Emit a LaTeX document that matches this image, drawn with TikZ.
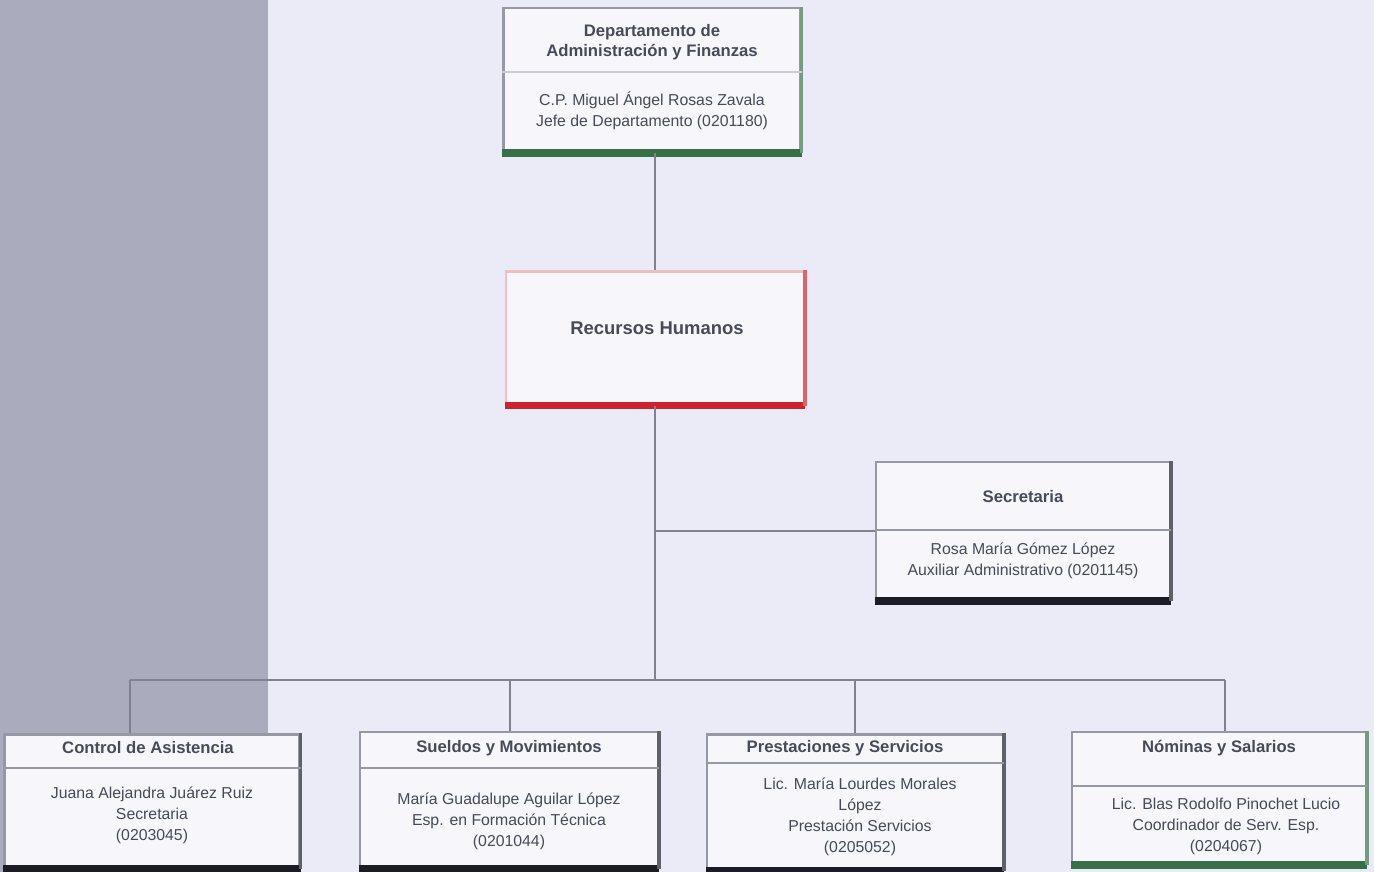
\documentclass[tikz,border=0pt]{standalone}
\usepackage{fontspec}
\setmainfont{Liberation Sans}
\usetikzlibrary{calc}

\definecolor{fondo}{RGB}{234,235,247}
\definecolor{panel}{RGB}{170,172,190}
\definecolor{borde}{RGB}{150,152,166}
\definecolor{letra}{RGB}{72,74,88}
\definecolor{verde}{RGB}{55,112,72}
\definecolor{rojo}{RGB}{205,35,45}
\definecolor{negro}{RGB}{28,28,38}
\definecolor{linea}{RGB}{128,130,144}

\tikzset{
  caja/.style={draw=borde, fill=white!55!fondo, line width=1.2pt, inner sep=0pt},
  titulo/.style={font=\bfseries\fontsize{9.5}{11.5}\selectfont, text=letra, align=center},
  datos/.style={font=\fontsize{9}{12}\selectfont, text=letra, align=center},
  conector/.style={draw=linea, line width=1.5pt}
}

\begin{document}
\begin{tikzpicture}[x=0.02cm,y=-0.02cm]
\useasboundingbox (0,0) rectangle (1374,872);
\fill[fondo] (0,0) rectangle (1374,872);
\fill[panel] (0,0) rectangle (268,872);

% cajas
\node[caja, minimum width=5.94cm, minimum height=2.88cm] (depto) at (652,80) {};
\node[caja, draw=rojo!30, minimum width=5.96cm, minimum height=2.66cm] (rh) at (655,338) {};
\node[caja, minimum width=5.88cm, minimum height=2.76cm] (secre) at (1023,531) {};
\node[caja, minimum width=5.90cm, minimum height=2.66cm] (control) at (152,801) {};
\node[caja, minimum width=5.96cm, minimum height=2.72cm] (sueldos) at (509,800) {};
\node[caja, minimum width=5.92cm, minimum height=2.70cm] (prest) at (855,802) {};
\node[caja, minimum width=5.88cm, minimum height=2.64cm] (nominas) at (1219,798) {};

% barras de color
\foreach \c/\col in {depto/verde, rh/rojo, secre/negro, control/negro, sueldos/negro, prest/negro, nominas/verde} {
  \draw[line width=4.5pt, \col] (\c.south west) -- (\c.south east);
  \draw[line width=2.2pt, \col!70] (\c.south east) -- (\c.north east);
}

% divisiones
\draw[borde!50, line width=0.8pt] (depto.west |- 0,72) -- (depto.east |- 0,72);
\draw[borde, line width=1pt] (secre.west |- 0,530) -- (secre.east |- 0,530);
\draw[borde, line width=1pt] (control.west |- 0,768) -- (control.east |- 0,768);
\draw[borde, line width=1pt] (sueldos.west |- 0,768) -- (sueldos.east |- 0,768);
\draw[borde, line width=1pt] (prest.west |- 0,763) -- (prest.east |- 0,763);
\draw[borde, line width=1pt] (nominas.west |- 0,786) -- (nominas.east |- 0,786);

% textos
\node[titulo] (deptoT) at (652,42) {Departamento de\\Administración y Finanzas};
\node[datos] (deptoD) at (652,111) {C.P. Miguel Ángel Rosas Zavala\\Jefe de Departamento (0201180)};
\node[titulo, font=\bfseries\fontsize{10.5}{12}\selectfont] (rhT) at (657,328) {Recursos Humanos};
\node[titulo] (secreT) at (1023,497) {Secretaria};
\node[datos] (secreD) at (1023,561) {Rosa María Gómez López\\Auxiliar Administrativo (0201145)};
\node[titulo] (controlT) at (148,748) {Control de Asistencia};
\node[datos] (controlD) at (152,815) {Juana Alejandra Juárez Ruiz\\Secretaria\\(0203045)};
\node[titulo] (sueldosT) at (509,748) {Sueldos y Movimientos};
\node[datos] (sueldosD) at (509,821) {María Guadalupe Aguilar López\\Esp. en Formación Técnica\\(0201044)};
\node[titulo] (prestT) at (845,748) {Prestaciones y Servicios};
\node[datos] (prestD) at (860,817) {Lic. María Lourdes Morales\\López\\Prestación Servicios\\(0205052)};
\node[titulo] (nominasT) at (1219,748) {Nóminas y Salarios};
\node[datos] (nominasD) at (1226,826) {Lic. Blas Rodolfo Pinochet Lucio\\Coordinador de Serv. Esp.\\(0204067)};

% conectores
\coordinate (bus) at (655,680);
\coordinate (bus1) at (130,680);
\coordinate (bus2) at (510,680);
\coordinate (bus3) at (855,680);
\coordinate (bus4) at (1225,680);
\draw[conector] (depto.south -| rh.north) -- (rh.north);
\draw[conector] (rh.south) -- (bus);
\draw[conector] (rh.south |- secre.west) -- (secre.west);
\draw[conector] (bus1) -- (bus4);
\draw[conector] (bus1) -- (bus1 |- control.north);
\draw[conector] (bus2) -- (bus2 |- sueldos.north);
\draw[conector] (bus3) -- (bus3 |- prest.north);
\draw[conector] (bus4) -- (bus4 |- nominas.north);
\end{tikzpicture}
\end{document}
